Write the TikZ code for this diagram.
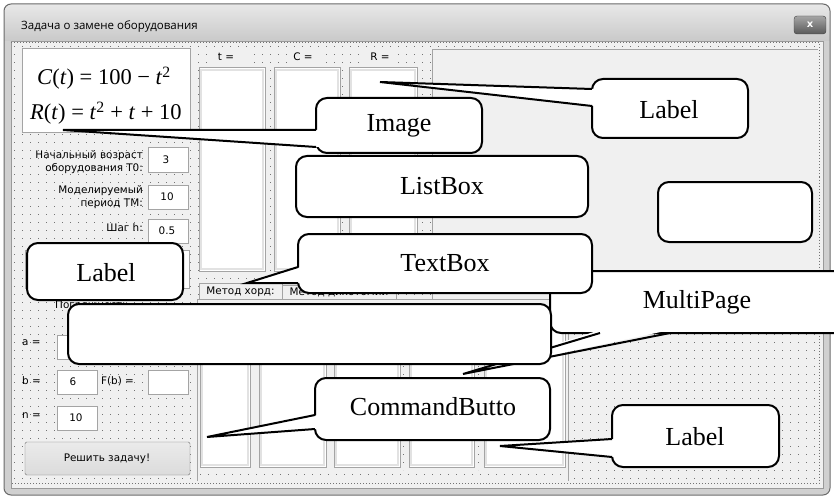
\documentclass[tikz,border=0pt]{standalone}
\usepackage{fontspec}
\setmainfont{Liberation Serif}
\newfontfamily\uifont{DejaVu Sans}
\newfontfamily\titlefont{Open Sans}
\definecolor{formbg}{HTML}{F0F0F0}
\definecolor{framegray}{HTML}{D0D0D0}
\definecolor{titletop}{HTML}{E8E8E8}
\definecolor{titlebot}{HTML}{C9C9C9}
\definecolor{winedge}{HTML}{6A6A6A}
\definecolor{boxedge}{HTML}{A4A4A4}
\definecolor{boxinner}{HTML}{E2E2E2}
\begin{document}
\begin{tikzpicture}[x=1pt,y=-1pt,
  co/.style={draw=black,fill=white,line width=2pt,rounded corners=11pt},
  coline/.style={draw=black,line width=2pt,line join=miter},
  cotext/.style={font=\fontsize{26}{28}\selectfont, inner sep=0pt},
  ui/.style={font=\uifont\fontsize{10.4}{13}\selectfont, inner sep=0pt},
  tbox/.style={fill=white,draw=boxedge,line width=1pt},
  lbox/.style={fill=white,draw=boxedge,line width=1pt},
  griddot/.style={draw=black!55,line width=0.9pt,dash pattern=on 0.9pt off 7.1pt},
]
\useasboundingbox (0,0) rectangle (834,497);
\clip (0,0) rectangle (834,497);
\fill[white] (0,0) rectangle (834,497);

% ---------- window ----------
\begin{scope}
  \clip[rounded corners=7pt] (4,4) rectangle (830,495);
  \fill[framegray] (4,4) rectangle (830,495);
  \shade[top color=titletop,bottom color=titlebot] (4,4) rectangle (830,41);
\end{scope}
\draw[draw=winedge,rounded corners=7pt,line width=1pt] (4,4) rectangle (830,495);
\node[anchor=west, font=\titlefont\fontsize{11.5}{13}\selectfont, inner sep=0pt] (title) at (21,26) {Задача о замене оборудования};
\shadedraw[rounded corners=3pt, top color=black!35, bottom color=black!65, draw=black!75] (794,16) rectangle (826,34);
\node[font=\uifont\bfseries\fontsize{10}{10}\selectfont, text=white, inner sep=0pt] (close) at (810,24.5) {x};

% ---------- client area ----------
\fill[formbg] (11,41) rectangle (823,488);
\draw[black!40] (11,41) rectangle (823,488);
\foreach \yy in {46,54,...,478} \draw[griddot] (14,\yy) -- (818,\yy);
\draw[black!55, dash pattern=on 1pt off 2pt] (11,42.5) -- (819,42.5) -- (819,483) -- (11,483);

% image control with formulas
\draw[tbox] (22,49) rectangle (190,133);
\node[font=\fontsize{22.5}{24}\selectfont, inner sep=0pt] (fC) at (104,78) {\textit{C}(\textit{t}) = 100 − \textit{t}\textsuperscript{2}};
\node[font=\fontsize{22.5}{24}\selectfont, inner sep=0pt] (fR) at (106,113) {\textit{R}(\textit{t}) = \textit{t}\textsuperscript{2} + \textit{t} + 10};

% column labels
\fill[formbg] (208,50) rectangle (248,64);
\fill[formbg] (288,50) rectangle (320,64);
\fill[formbg] (366,50) rectangle (396,64);
\node[ui] (lt) at (226,57) {t =};
\node[ui] (lc) at (303,57) {C =};
\node[ui] (lr) at (380,57) {R =};

% top list boxes
\foreach \xa/\xb in {199/265,274/340,349/417}{
  \draw[lbox] (\xa,68) rectangle (\xb,271);
  \draw[boxinner,line width=2pt] (\xa+2,70) rectangle (\xb-2,269);
}

% right panel
\fill[formbg] (432,49) rectangle (818,315);
\draw[boxedge] (432,315) -- (432,49) -- (818,49);

% left column labels and text boxes
\node[ui, align=right, anchor=east] (l1) at (143,162.5) {Начальный возраст\\оборудования T0:};
\draw[tbox] (148,148) rectangle (188,172);
\node[ui] (v1) at (166,160) {3};
\node[ui, align=right, anchor=east] (l2) at (143,197.5) {Моделируемый\\период TM:};
\draw[tbox] (148,185) rectangle (188,209);
\node[ui] (v2) at (167,197) {10};
\node[ui, anchor=east] (l3) at (143,228) {Шаг h:};
\draw[tbox] (148,219) rectangle (188,243);
\node[ui] (v3) at (167,231) {0.5};
\draw[tbox] (25,250) rectangle (189,288);
\node[ui, anchor=west] (l4) at (55,306) {Погрешность};

\node[ui, anchor=west] (la) at (22,343) {a =};
\draw[tbox] (57,335) rectangle (97,359);
\node[ui, anchor=west] (lb) at (22,381) {b =};
\draw[tbox] (57,370) rectangle (97,394);
\node[ui] (vb) at (73,382) {6};
\node[ui, anchor=west] (lfb) at (101,381) {F(b) =};
\draw[tbox] (148,370) rectangle (188,394);
\node[ui, anchor=west] (ln) at (22,416) {n =};
\draw[tbox] (57,406) rectangle (97,430);
\node[ui] (vn) at (76,418) {10};

% button
\shadedraw[top color=white!92!black, bottom color=white!86!black, draw=black!55, rounded corners=1.5pt] (25,442) rectangle (190,475);
\node[ui] (btn) at (107,459) {Решить задачу!};

% multipage
\fill[formbg] (197,299) rectangle (568,481);
\draw[boxedge] (197,481) -- (197,299) -- (568,299) -- (568,481);
\draw[black!55, dash pattern=on 0.9pt off 7.1pt, line width=0.9pt] (200,474) -- (566,474);
\draw[black!55, dash pattern=on 0.9pt off 7.1pt, line width=0.9pt] (403,310) -- (403,470);
\draw[black!55, dash pattern=on 0.9pt off 7.1pt, line width=0.9pt] (478,310) -- (478,470);
\draw[boxedge, fill=formbg] (282,285) rectangle (396,299);
\node[ui] (tab2) at (339,292.5) {Метод дихотомии};
\draw[boxedge, fill=formbg] (199,299) -- (199,283) -- (282,283) -- (282,299);
\node[ui] (tab1) at (240.5,291.5) {Метод хорд:};
\foreach \xa/\xb in {200/250,259/326,334/400,409/474,484/565}{
  \draw[lbox] (\xa,312) rectangle (\xb,467);
  \draw[boxinner,line width=2pt] (\xa+2,314) rectangle (\xb-2,465);
}

% ---------- callouts ----------
\coordinate (tImg) at (63,130);
\coordinate (tLab1) at (380,82);
\coordinate (tTB) at (247,283);
\coordinate (tMP) at (463,374);
\coordinate (tCB) at (207,437);
\coordinate (tLab3) at (500,446);

% Image
\draw[co] (316,98) rectangle (482,153);
\fill[white] (319,130) -- (tImg) -- (319,147) -- cycle;
\draw[coline] (316,130) -- (tImg) -- (316,147);
\node[cotext] (cImg) at (399,126) {Image};

% Label top right
\draw[co] (592,79) rectangle (748,138);
\fill[white] (595,89) -- (tLab1) -- (595,106) -- cycle;
\draw[coline] (592,89) -- (tLab1) -- (592,106);
\node[cotext] (cLab1) at (669,110) {Label};

% ListBox
\draw[co] (296,156) rectangle (588,217);
\node[cotext] (cLB) at (442,186) {ListBox};

% MultiPage
\draw[co] (550,271) rectangle (850,333);
\fill[white] (600,330) -- (tMP) -- (670,330) -- cycle;
\draw[coline] (600,333) -- (tMP) -- (670,333);
\node[cotext] (cMP) at (697,302) {MultiPage};

% TextBox
\draw[co] (298,234) rectangle (592,293);
\fill[white] (301,267) -- (tTB) -- (301,283) -- cycle;
\draw[coline] (298,267) -- (tTB) -- (298,283);
\node[cotext] (cTB) at (445,263) {TextBox};

% blank callouts
\draw[co] (68,304) rectangle (551,364);
\draw[co] (658,182) rectangle (812,242);

% Label left
\draw[co] (27,243) rectangle (183,300);
\node[cotext] (cLab2) at (106,273) {Label};

% CommandButto
\draw[co] (315,378) rectangle (550,440);
\fill[white] (318,415) -- (tCB) -- (318,429) -- cycle;
\draw[coline] (315,415) -- (tCB) -- (315,429);
\node[cotext] (cCB) at (433,407) {CommandButto};

% Label bottom right
\draw[co] (612,405) rectangle (779,467);
\fill[white] (615,439) -- (tLab3) -- (615,457) -- cycle;
\draw[coline] (612,439) -- (tLab3) -- (612,457);
\node[cotext] (cLab3) at (695,437) {Label};
\end{tikzpicture}
\end{document}
